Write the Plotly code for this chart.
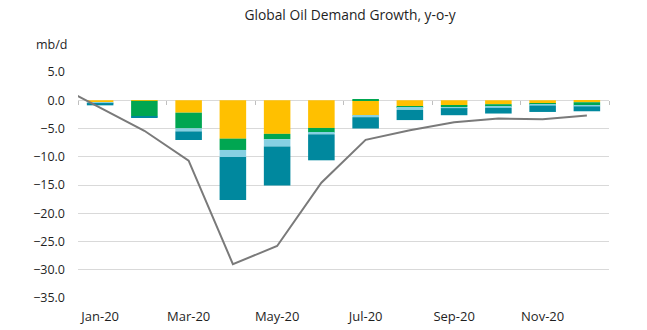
import plotly.graph_objects as go

# Months shown on the category axis; the demand line also carries the prior month
months = ["Jan-20", "Feb-20", "Mar-20", "Apr-20", "May-20", "Jun-20",
          "Jul-20", "Aug-20", "Sep-20", "Oct-20", "Nov-20", "Dec-20"]
line_months = ["Dec-19"] + months

# Stacked components of y-o-y demand change (mb/d)
seg_gold = [-0.40, -0.10, -2.20, -6.80, -5.95, -4.90, -2.78, -1.06, -0.90, -0.70, -0.60, -0.35]
seg_green = [0.00, -2.70, -2.78, -2.00, -0.95, -0.83, 0.15, -0.30, -0.30, -0.47, -0.10, -0.60]
seg_light = [-0.10, -0.10, -0.53, -1.25, -1.30, -0.30, -0.22, -0.35, -0.20, -0.18, -0.25, -0.15]
seg_teal = [-0.40, -0.15, -1.53, -7.60, -6.87, -4.60, -2.00, -1.80, -1.25, -1.00, -1.12, -0.85]

# Total global demand growth (mb/d)
total_growth = [2.8, -1.3, -5.4, -10.7, -29.0, -25.8, -14.6, -7.0, -5.3, -3.9, -3.25, -3.35, -2.7]

y_ticks = [5, 0, -5, -10, -15, -20, -25, -30, -35]
x_label_months = ["Jan-20", "Mar-20", "May-20", "Jul-20", "Sep-20", "Nov-20"]

FONT = "Open Sans"
TEXT = "#1f1f1f"
GRID = "#d9d9d9"

fig = go.Figure()

segments = [
    ("Segment 1", seg_gold, "#FFC000"),
    ("Segment 2", seg_green, "#00A651"),
    ("Segment 3", seg_light, "#86D0E2"),
    ("Segment 4", seg_teal, "#00889E"),
]
for name, vals, color in segments:
    fig.add_trace(go.Bar(x=months, y=vals, name=name,
                         marker=dict(color=color, line=dict(width=0))))

fig.add_trace(go.Scatter(x=line_months, y=total_growth, mode="lines",
                         name="Total", line=dict(color="#7a7a7a", width=2)))

# Boundary tick marks drawn along the zero line
tick_axis_pos = (0 - min(y_ticks)) / (max(y_ticks) - min(y_ticks))
fig.add_trace(go.Scatter(x=[], y=[], xaxis="x2", showlegend=False, hoverinfo="skip"))

fig.update_layout(
    width=647, height=330,
    margin=dict(l=78, r=38, t=72, b=32),
    paper_bgcolor="white", plot_bgcolor="white",
    barmode="relative", bargap=0.4,
    showlegend=False,
    font=dict(family=FONT, size=12.5, color=TEXT),
    title=dict(text="Global Oil Demand Growth, y-o-y",
               font=dict(family=FONT, size=13.8, color=TEXT),
               xref="container", x=0.541, xanchor="center",
               yref="container", y=1 - 15 / 330, yanchor="middle"),
    xaxis=dict(type="category", categoryorder="array", categoryarray=line_months,
               range=[0.5, 12.5], tickmode="array", tickvals=x_label_months,
               ticktext=x_label_months, showgrid=False, zeroline=False,
               showline=False, ticks="", ticklabelstandoff=9, automargin=False,
               tickfont=dict(size=13, color=TEXT)),
    xaxis2=dict(overlaying="x", anchor="free", position=tick_axis_pos,
                range=[0.5, 12.5], tickmode="array",
                tickvals=[0.5, 2.5, 4.5, 6.5, 8.5, 10.5, 12.5],
                ticks="outside", ticklen=4, tickwidth=1, tickcolor="#bfbfbf",
                showticklabels=False, showgrid=False, zeroline=False,
                showline=False, side="bottom", automargin=False),
    yaxis=dict(range=[min(y_ticks), max(y_ticks)], tickmode="array",
               tickvals=y_ticks, tickformat=".1f", showgrid=True,
               gridcolor=GRID, gridwidth=1, zeroline=True, zerolinecolor=GRID,
               zerolinewidth=1, showline=False, ticks="", automargin=False,
               ticklabelstandoff=12, tickfont=dict(size=12.5, color=TEXT)),
    annotations=[dict(text="mb/d", xref="paper", yref="paper",
                      x=-27 / 531.6, y=1 + 28 / 226, xanchor="center",
                      yanchor="middle", showarrow=False,
                      font=dict(family=FONT, size=12.5, color=TEXT))],
)

fig.write_html("out.html")
